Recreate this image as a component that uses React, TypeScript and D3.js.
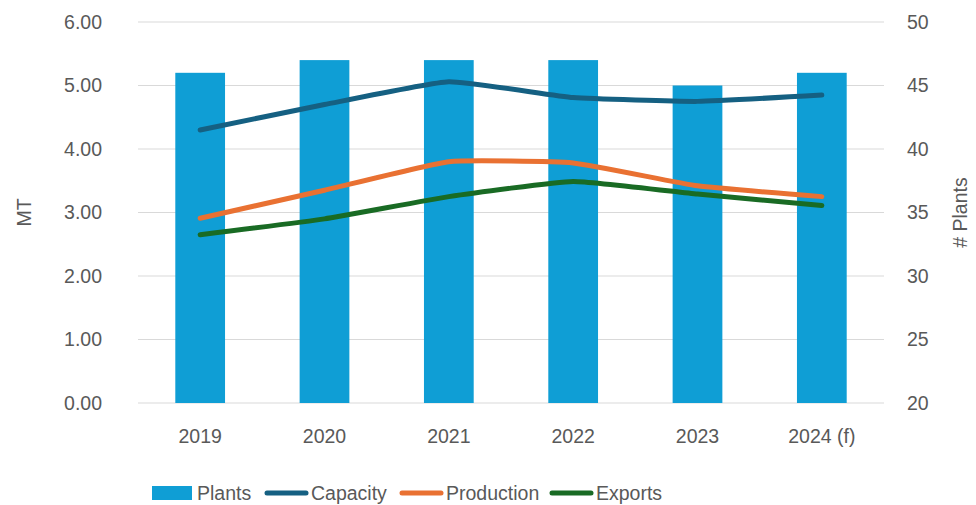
import React from "react";
import * as d3 from "d3";

// values
const years = ["2019", "2020", "2021", "2022", "2023", "2024 (f)"];
const plants = [46, 47, 47, 47, 45, 46];
const capacity = [4.3, 4.7, 5.06, 4.81, 4.75, 4.85];
const production = [2.91, 3.35, 3.8, 3.78, 3.42, 3.25];
const exportsMT = [2.65, 2.9, 3.25, 3.49, 3.29, 3.11];
const leftTicks = [0, 1, 2, 3, 4, 5, 6];
const rightTicks = [20, 25, 30, 35, 40, 45, 50];

const W = 976;
const H = 505;
const m = { top: 22, right: 92, bottom: 102, left: 138 };
const FONT = "'Liberation Sans Narrow', 'Liberation Sans', Roboto, sans-serif";
const TEXT = "#595959";
const FS = 19.5;

const lineSeries = [
    { name: "Capacity", values: capacity, color: "#156082" },
    { name: "Production", values: production, color: "#E97132" },
    { name: "Exports", values: exportsMT, color: "#196B24" },
];

const App: React.FC = () => {
    const x = d3
        .scaleBand()
        .domain(years)
        .range([m.left, W - m.right])
        .paddingInner(0.6)
        .paddingOuter(0.3);
    const yL = d3.scaleLinear().domain([0, 6]).range([H - m.bottom, m.top]);
    const yR = d3.scaleLinear().domain([20, 50]).range([H - m.bottom, m.top]);
    const cx = (d: string) => (x(d) as number) + x.bandwidth() / 2;

    // Excel-style lightly smoothed line
    const line = d3
        .line<number>()
        .x((_, i) => cx(years[i]))
        .y((d) => yL(d))
        .curve(d3.curveCardinal.tension(0.6));

    const legendY = 493;
    const legend = [
        { name: "Plants", x0: 152, kind: "bar", color: "#0F9ED5" },
        { name: "Capacity", x0: 265, kind: "line", color: "#156082" },
        { name: "Production", x0: 400, kind: "line", color: "#E97132" },
        { name: "Exports", x0: 550, kind: "line", color: "#196B24" },
    ];

    return (
        <svg
            width={W}
            height={H}
            style={{ position: "absolute", left: 0, top: 0, background: "#fff" }}
            fontFamily={FONT}
        >
            {/* gridlines */}
            {leftTicks.map((t) => (
                <line
                    key={t}
                    x1={m.left}
                    x2={W - m.right}
                    y1={yL(t)}
                    y2={yL(t)}
                    stroke="#D9D9D9"
                    strokeWidth={1}
                />
            ))}

            {/* bars on right axis */}
            {plants.map((v, i) => (
                <rect
                    key={years[i]}
                    x={x(years[i])}
                    y={yR(v)}
                    width={x.bandwidth()}
                    height={yR(20) - yR(v)}
                    fill="#0F9ED5"
                />
            ))}

            {lineSeries.map((s) => (
                <path
                    key={s.name}
                    d={line(s.values) || ""}
                    fill="none"
                    stroke={s.color}
                    strokeWidth={5}
                    strokeLinecap="round"
                    strokeLinejoin="round"
                />
            ))}

            {/* left axis */}
            {leftTicks.map((t) => (
                <text
                    key={t}
                    x={102}
                    y={yL(t)}
                    dy="0.35em"
                    textAnchor="end"
                    fontSize={FS}
                    fill={TEXT}
                >
                    {d3.format(".2f")(t)}
                </text>
            ))}
            <text
                transform={`translate(24,${(yL(0) + yL(6)) / 2}) rotate(-90)`}
                textAnchor="middle"
                dy="0.35em"
                fontSize={FS}
                fill={TEXT}
            >
                MT
            </text>

            {/* right axis */}
            {rightTicks.map((t) => (
                <text
                    key={t}
                    x={907}
                    y={yR(t)}
                    dy="0.35em"
                    textAnchor="start"
                    fontSize={FS}
                    fill={TEXT}
                >
                    {t}
                </text>
            ))}
            <text
                transform={`translate(960,${(yR(20) + yR(50)) / 2}) rotate(-90)`}
                textAnchor="middle"
                dy="0.35em"
                fontSize={FS}
                fill={TEXT}
            >
                # Plants
            </text>

            {/* x axis labels */}
            {years.map((yr) => (
                <text
                    key={yr}
                    x={cx(yr)}
                    y={436}
                    dy="0.35em"
                    textAnchor="middle"
                    fontSize={FS}
                    fill={TEXT}
                >
                    {yr}
                </text>
            ))}

            {/* legend */}
            {legend.map((l) => (
                <g key={l.name}>
                    {l.kind === "bar" ? (
                        <rect x={l.x0} y={legendY - 7} width={40} height={14} fill={l.color} />
                    ) : (
                        <line
                            x1={l.x0 + 2}
                            x2={l.x0 + 41}
                            y1={legendY}
                            y2={legendY}
                            stroke={l.color}
                            strokeWidth={5}
                            strokeLinecap="round"
                        />
                    )}
                    <text
                        x={l.x0 + (l.kind === "bar" ? 45 : 46)}
                        y={legendY}
                        dy="0.35em"
                        fontSize={FS}
                        fill={TEXT}
                    >
                        {l.name}
                    </text>
                </g>
            ))}
        </svg>
    );
};

export default App;
